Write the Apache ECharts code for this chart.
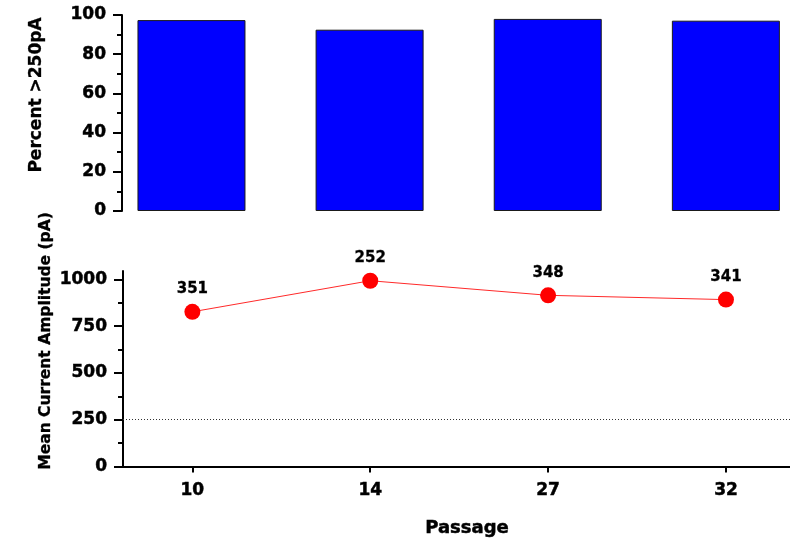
<!DOCTYPE html>
<html>
<head>
<meta charset="utf-8">
<script src="https://cdn.jsdelivr.net/npm/echarts@6/dist/echarts.min.js"></script>
<style>
  html, body { margin: 0; padding: 0; background: #fff; }
  #chart { width: 790px; height: 540px; }
</style>
</head>
<body>
<div id="chart"></div>
<script>
// Passage numbers along the shared x axis
const passages = ['10', '14', '27', '32'];
// Upper panel: percentage of cells above 250 pA
const percentAbove250 = [97.4, 92.5, 98.0, 97.1];
// Lower panel: mean current amplitude (pA) and number of cells per passage
const meanAmplitude = [827, 993, 915, 892];
const cellCounts = ['351', '252', '348', '341'];
// Tick values
const amplitudeTicks = [0, 250, 500, 750, 1000];
const amplitudeMinorTicks = [125, 375, 625, 875];
const passageTicks = [0, 1, 2, 3];
const threshold = 250;

const FONT = 'DejaVu Sans';
const INK = '#000';
const X_MIN = -0.39;
const X_MAX = 3.36;

const chart = echarts.init(document.getElementById('chart'), null, { renderer: 'canvas' });

// heavy bold lettering: bold face plus a hairline outline in the same ink
const heavy = { textBorderColor: INK, textBorderWidth: 0.5 };
const tickLabel = Object.assign({ color: INK, fontFamily: FONT, fontWeight: 'bold', fontSize: 17 }, heavy);

chart.setOption({
  animation: false,
  backgroundColor: '#fff',
  grid: [
    { left: 122, top: 15, right: 0, height: 196 },
    { left: 123, top: 271, right: 0, height: 195.5 }
  ],
  xAxis: [
    {
      type: 'value', gridIndex: 0, min: X_MIN, max: X_MAX,
      axisLine: { show: false }, axisTick: { show: false },
      axisLabel: { show: false }, splitLine: { show: false }
    },
    {
      type: 'value', gridIndex: 1, min: X_MIN, max: X_MAX,
      axisLine: { show: true, onZero: false, lineStyle: { color: INK, width: 2 } },
      axisTick: { show: true, customValues: passageTicks, length: 6, lineStyle: { color: INK, width: 2 } },
      axisLabel: Object.assign({
        customValues: passageTicks, margin: 16,
        formatter: v => passages[Math.round(v)]
      }, tickLabel),
      splitLine: { show: false }
    }
  ],
  yAxis: [
    {
      type: 'value', gridIndex: 0, position: 'left', min: 0, max: 100, interval: 20,
      axisLine: { show: true, onZero: false, lineStyle: { color: INK, width: 2 } },
      axisTick: { show: true, length: 9, lineStyle: { color: INK, width: 2 } },
      minorTick: { show: true, splitNumber: 2, length: 5, lineStyle: { color: INK, width: 2 } },
      axisLabel: Object.assign({ margin: 16 }, tickLabel),
      splitLine: { show: false },
      minorSplitLine: { show: false }
    },
    {
      type: 'value', gridIndex: 1, position: 'left', min: 0, max: 1045,
      axisLine: { show: true, onZero: false, lineStyle: { color: INK, width: 2 } },
      axisTick: { show: true, customValues: amplitudeTicks, length: 9, lineStyle: { color: INK, width: 2 } },
      axisLabel: Object.assign({ customValues: amplitudeTicks, margin: 16, formatter: v => String(v) }, tickLabel),
      splitLine: { show: false }
    },
    {
      // minor ticks of the amplitude axis
      type: 'value', gridIndex: 1, position: 'left', min: 0, max: 1045,
      axisLine: { show: false, onZero: false },
      axisTick: { show: true, customValues: amplitudeMinorTicks, length: 5, lineStyle: { color: INK, width: 2 } },
      axisLabel: { show: false },
      splitLine: { show: false }
    }
  ],
  series: [
    {
      type: 'bar',
      xAxisIndex: 0, yAxisIndex: 0,
      barWidth: 108,
      data: percentAbove250.map((v, i) => [i, v]),
      itemStyle: { color: '#0000ff', borderColor: '#1a1a1a', borderWidth: 1 }
    },
    {
      type: 'line',
      xAxisIndex: 1, yAxisIndex: 1,
      data: meanAmplitude.map((v, i) => [i, v]),
      symbol: 'circle',
      symbolSize: 16,
      itemStyle: { color: '#ff0000' },
      lineStyle: { color: '#ff2a2a', width: 1 },
      label: Object.assign({
        show: true, position: 'top', distance: 7,
        formatter: p => cellCounts[p.dataIndex],
        color: INK, fontFamily: FONT, fontWeight: 'bold', fontSize: 15
      }, { textBorderColor: INK, textBorderWidth: 0.3 }),
      markLine: {
        silent: true,
        symbol: 'none',
        label: { show: false },
        lineStyle: { color: '#333', type: [1, 2], width: 1 },
        data: [{ yAxis: threshold }]
      }
    }
  ],
  graphic: [
    {
      type: 'text', x: 37, y: 95, rotation: Math.PI / 2,
      style: {
        text: 'Percent >250pA', fill: INK, stroke: INK, lineWidth: 0.3,
        font: 'bold 17px "DejaVu Sans"', textAlign: 'center', textVerticalAlign: 'middle'
      }
    },
    {
      type: 'text', x: 46, y: 341, rotation: Math.PI / 2,
      style: {
        text: 'Mean Current Amplitude (pA)', fill: INK, stroke: INK, lineWidth: 0.3,
        font: 'bold 15.5px "DejaVu Sans"', textAlign: 'center', textVerticalAlign: 'middle'
      }
    },
    {
      type: 'text', x: 467, y: 528,
      style: {
        text: 'Passage', fill: INK, stroke: INK, lineWidth: 0.5,
        font: 'bold 18px "DejaVu Sans"', textAlign: 'center', textVerticalAlign: 'middle'
      }
    }
  ]
});
</script>
</body>
</html>
